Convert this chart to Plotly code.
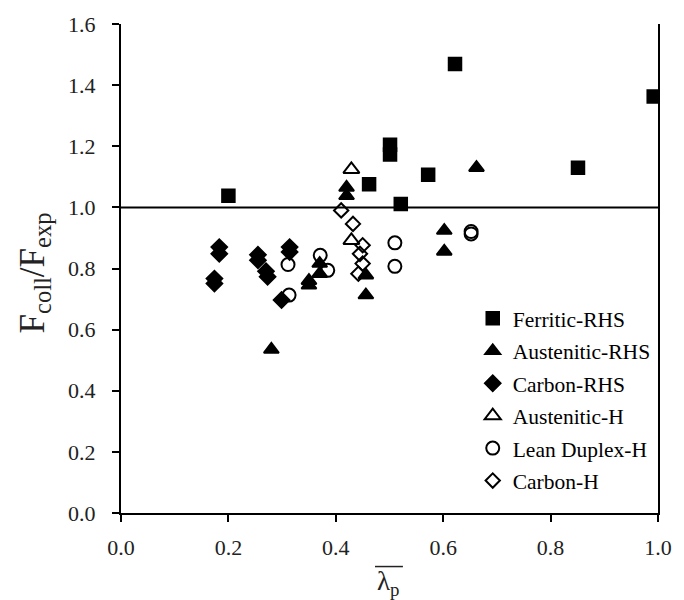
import plotly.graph_objects as go

ferritic_x = [0.200, 0.462, 0.501, 0.501, 0.521, 0.572, 0.622, 0.851, 0.992]
ferritic_y = [1.038, 1.076, 1.205, 1.173, 1.011, 1.107, 1.469, 1.130, 1.363]

aust_rhs_x = [0.280, 0.350, 0.350, 0.370, 0.370, 0.420, 0.420, 0.456, 0.456, 0.602, 0.602, 0.662]
aust_rhs_y = [0.535, 0.760, 0.745, 0.816, 0.783, 1.065, 1.038, 0.778, 0.713, 0.924, 0.856, 1.130]

carbon_rhs_x = [0.174, 0.174, 0.183, 0.183, 0.255, 0.255, 0.270, 0.273, 0.299, 0.314, 0.314]
carbon_rhs_y = [0.767, 0.751, 0.870, 0.848, 0.845, 0.827, 0.791, 0.773, 0.697, 0.870, 0.854]

aust_h_x = [0.429, 0.429]
aust_h_y = [1.124, 0.892]

lean_h_x = [0.311, 0.313, 0.371, 0.385, 0.510, 0.510, 0.652, 0.652]
lean_h_y = [0.813, 0.713, 0.843, 0.794, 0.884, 0.807, 0.921, 0.913]

carbon_h_x = [0.410, 0.432, 0.450, 0.445, 0.450, 0.442]
carbon_h_y = [0.990, 0.946, 0.876, 0.848, 0.816, 0.783]

series = [
    ("Ferritic-RHS", ferritic_x, ferritic_y, "square", 12.5),
    ("Austenitic-RHS", aust_rhs_x, aust_rhs_y, "triangle-up", 13),
    ("Carbon-RHS", carbon_rhs_x, carbon_rhs_y, "diamond", 12),
    ("Austenitic-H", aust_h_x, aust_h_y, "triangle-up-open", 14),
    ("Lean Duplex-H", lean_h_x, lean_h_y, "circle-open", 13),
    ("Carbon-H", carbon_h_x, carbon_h_y, "diamond-open", 11),
]

fig = go.Figure()
for i, (name, xs, ys, sym, sz) in enumerate(series):
    fig.add_trace(go.Scatter(
        x=xs, y=ys, mode="markers", name=name, legendgroup=str(i),
        marker=dict(symbol=sym, size=sz, color="black",
                    line=dict(color="black", width=2)),
    ))

font_family = "Liberation Serif"
text_color = "#222"

fig.add_shape(type="line", xref="paper", yref="y", x0=0, x1=1, y0=1.0, y1=1.0,
              line=dict(color="black", width=2))

fig.update_layout(
    width=684, height=600,
    margin=dict(l=121, r=18, t=20, b=87),
    paper_bgcolor="white", plot_bgcolor="white",
    font=dict(family=font_family, size=21, color=text_color),
    showlegend=True,
    legend=dict(x=0.655, y=0.44, xanchor="left", yanchor="top",
                font=dict(family=font_family, size=21.5, color="black"),
                bgcolor="rgba(0,0,0,0)", tracegroupgap=1.5,
                itemwidth=30),
    xaxis=dict(range=[0, 1.0], dtick=0.2, tickformat=".1f",
               showgrid=False, zeroline=False, showline=True,
               linecolor="black", linewidth=2, ticks="outside",
               ticklen=7, tickwidth=2, tickcolor="black", ticklabelstandoff=7,
               tickfont=dict(family=font_family, size=22, color=text_color)),
    yaxis=dict(range=[0, 1.6], dtick=0.2, tickformat=".1f",
               showgrid=False, zeroline=False, showline=True, mirror=True,
               linecolor="black", linewidth=2, ticks="outside",
               ticklen=7, tickwidth=2, tickcolor="black", ticklabelstandoff=12,
               tickfont=dict(family=font_family, size=22, color=text_color)),
)

fig.add_annotation(text="F<sub>coll</sub>/F<sub>exp</sub>", xref="paper", yref="paper",
                   x=-0.162, y=0.49, xanchor="center", yanchor="middle", textangle=-90,
                   showarrow=False, font=dict(family=font_family, size=35, color=text_color))
fig.add_annotation(text="λ<sub>p</sub>", xref="paper", yref="paper",
                   x=0.499, y=-0.143, xanchor="center", yanchor="middle",
                   showarrow=False, font=dict(family=font_family, size=27, color=text_color))
fig.add_shape(type="line", xref="paper", yref="paper", x0=0.473, x1=0.525,
              y0=-0.1095, y1=-0.1095, line=dict(color=text_color, width=1.5))

fig.write_html("out.html")
